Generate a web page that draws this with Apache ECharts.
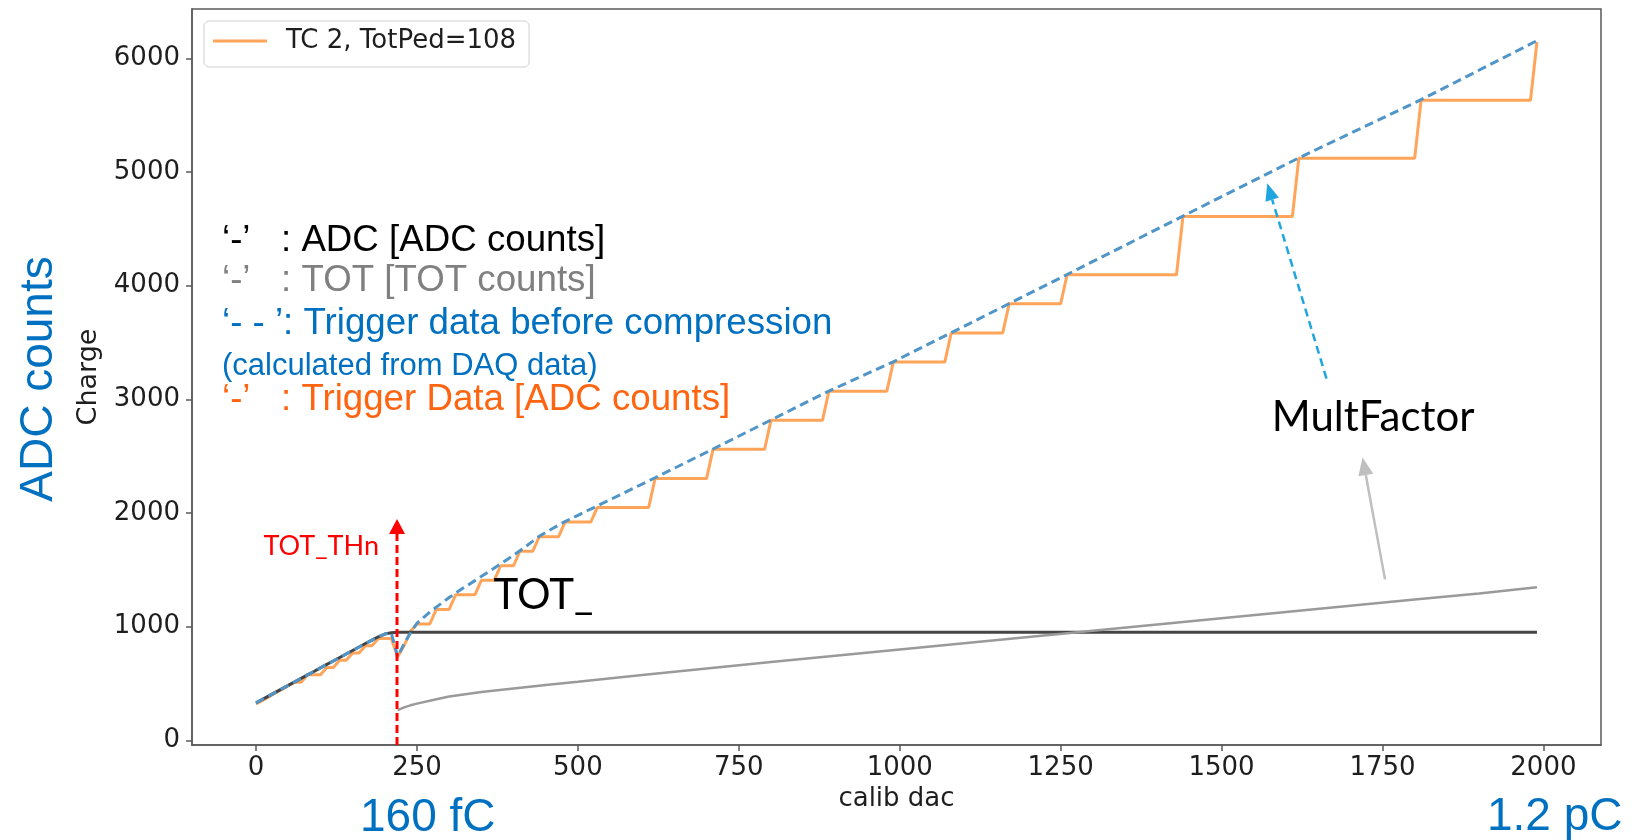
<!DOCTYPE html>
<html>
<head>
<meta charset="utf-8">
<title>TC 2 trigger data vs calib dac</title>
<script src="https://cdn.jsdelivr.net/npm/echarts@6/dist/echarts.min.js"></script>
<style>
  html, body { margin: 0; padding: 0; background: #ffffff; }
  #chart { width: 1636px; height: 840px; }
</style>
</head>
<body>
<div id="chart"></div>
<script>
// ---- data: calib dac sweep of trigger cell 2 ----
// ADC readout [ADC counts]
const adcDac = [0, 10, 20, 30, 40, 50, 60, 70, 80, 90, 100, 110, 120, 130, 140, 150, 160, 170, 180, 190, 200, 210, 220, 1990];
const adcVal = [330, 361, 391, 422, 453, 484, 514, 545, 576, 606, 637, 668, 698, 729, 760, 790, 821, 852, 882, 911, 935, 946, 950, 950];

// TOT readout [TOT counts]
const totDac = [220, 230, 240, 250, 275, 300, 350, 400, 450, 500, 600, 700, 800, 900, 1000, 1100, 1200, 1300, 1400, 1500, 1600, 1700, 1800, 1900, 1990];
const totVal = [265, 290, 308, 323, 355, 385, 425, 456, 487, 516, 575, 633, 690, 745, 800, 855, 910, 965, 1020, 1075, 1130, 1184, 1238, 1292, 1346];

// trigger data before compression (calculated from DAQ data)
const preDac = [0, 50, 100, 150, 190, 200, 210, 220, 230, 240, 250, 260, 270, 280, 290, 300, 320, 340, 360, 380, 400, 420, 440, 460, 480, 500, 520, 530, 620, 710, 800, 890, 990, 1080, 1170, 1260, 1440, 1620, 1810, 1990];
const preVal = [330, 484, 637, 790, 911, 935, 946, 736, 850, 945, 1030, 1080, 1128, 1172, 1214, 1256, 1333, 1405, 1478, 1552, 1627, 1710, 1795, 1862, 1925, 1980, 2035, 2062, 2310, 2563, 2818, 3073, 3330, 3586, 3842, 4098, 4612, 5124, 5636, 6155];

// trigger data after compression [ADC counts]
const trigDac = [0, 10, 20, 30, 40, 50, 60, 70, 80, 90, 100, 110, 120, 130, 140, 150, 160, 170, 180, 190, 200, 210, 220,
  230, 240, 250, 270, 280, 300, 310, 340, 350, 370, 380, 400, 410, 430, 440, 470, 480, 520, 530, 610, 620, 700, 710, 790,
  800, 880, 890, 980, 990, 1070, 1080, 1160, 1170, 1250, 1260, 1430, 1440, 1610, 1620, 1800, 1810, 1980, 1990];
const trigVal = [320, 352, 384, 416, 448, 480, 512, 512, 576, 576, 576, 640, 640, 704, 704, 768, 768, 832, 832, 896, 896, 896, 736,
  832, 960, 1024, 1024, 1152, 1152, 1280, 1280, 1408, 1408, 1536, 1536, 1664, 1664, 1792, 1792, 1920, 1920, 2048, 2048, 2304, 2304, 2560, 2560,
  2816, 2816, 3072, 3072, 3328, 3328, 3584, 3584, 3840, 3840, 4096, 4096, 4608, 4608, 5120, 5120, 5632, 5632, 6144];

const xTicks = [0, 250, 500, 750, 1000, 1250, 1500, 1750, 2000];
const yTicks = [0, 1000, 2000, 3000, 4000, 5000, 6000];
const legendLabel = 'TC 2, TotPed=108';

// ---- styles ----
const C_TRIG = '#ffa458';
const C_PRE = '#5095c8';
const C_ADC = '#454545';
const C_TOT = '#9a9a9a';
const C_AXIS = '#5a5a5a';
const C_TEXT = '#1e1e1e';
const C_SLIDE_BLUE = '#0070c0';
const MPL_FONT = 'DejaVu Sans';
const SLIDE_FONT = 'Liberation Sans, Arial, sans-serif';
const NOTE_FONT = 'Lato, sans-serif';

const zip = (xs, ys) => xs.map((x, i) => [x, ys[i]]);
const plain = v => String(v);

const chart = echarts.init(document.getElementById('chart'), null, { renderer: 'canvas' });

const axisCommon = {
  type: 'value',
  nameLocation: 'middle',
  nameTextStyle: { fontFamily: MPL_FONT, fontSize: 26, color: C_TEXT },
  axisLine: { show: true, onZero: false, lineStyle: { color: C_AXIS, width: 1.5 } },
  splitLine: { show: false }
};

chart.setOption({
  animation: false,
  backgroundColor: '#ffffff',
  grid: {
    left: 192, top: 9, right: 35, bottom: 95,
    show: true, borderColor: C_AXIS, borderWidth: 1.5, backgroundColor: 'transparent'
  },
  xAxis: Object.assign({}, axisCommon, {
    min: -99.5, max: 2089.5,
    name: 'calib dac', nameGap: 41,
    axisTick: { show: true, length: 6, customValues: xTicks, lineStyle: { color: C_AXIS, width: 1.5 } },
    axisLabel: { customValues: xTicks, formatter: plain, margin: 10, fontFamily: MPL_FONT, fontSize: 26, color: C_TEXT }
  }),
  yAxis: Object.assign({}, axisCommon, {
    min: -41, max: 6434,
    name: 'Charge', nameRotate: 90, nameGap: 88,
    nameTextStyle: { fontFamily: MPL_FONT, fontSize: 27, color: C_TEXT },
    axisTick: { show: true, length: 6, customValues: yTicks, lineStyle: { color: C_AXIS, width: 1.5 } },
    axisLabel: { customValues: yTicks, formatter: plain, margin: 12, fontFamily: MPL_FONT, fontSize: 26, color: C_TEXT }
  }),
  legend: {
    data: [legendLabel],
    left: 204, top: 21,
    orient: 'vertical',
    padding: [7, 13, 13, 9],
    backgroundColor: 'rgba(255,255,255,0.85)',
    borderColor: '#d0d0d0', borderWidth: 1, borderRadius: 5,
    icon: 'rect', itemWidth: 54, itemHeight: 3,
    selectedMode: false,
    textStyle: { fontFamily: MPL_FONT, fontSize: 26, color: C_TEXT, lineHeight: 26, padding: [0, 0, 0, 14] }
  },
  series: [
    {
      name: legendLabel, type: 'line', data: zip(trigDac, trigVal),
      symbol: 'none', silent: true, z: 2,
      color: C_TRIG, lineStyle: { color: C_TRIG, width: 3 }
    },
    {
      name: 'ADC', type: 'line', data: zip(adcDac, adcVal),
      symbol: 'none', silent: true, z: 3,
      color: C_ADC, lineStyle: { color: C_ADC, width: 3 }
    },
    {
      name: 'TOT', type: 'line', data: zip(totDac, totVal),
      symbol: 'none', silent: true, z: 3,
      color: C_TOT, lineStyle: { color: C_TOT, width: 2.5 }
    },
    {
      name: 'Trigger data before compression', type: 'line', data: zip(preDac, preVal),
      symbol: 'none', silent: true, z: 4,
      color: C_PRE, lineStyle: { color: C_PRE, width: 3, type: [9, 5] }
    }
  ]
});

// ---- annotations (anchored in data coordinates) ----
const toPx = p => chart.convertToPixel({ gridIndex: 0 }, p);

function arrow(from, to, color, width, dash, headLen, headW) {
  const a = toPx(from), b = toPx(to);
  const dx = b[0] - a[0], dy = b[1] - a[1];
  const len = Math.hypot(dx, dy);
  const ux = dx / len, uy = dy / len;
  const bx = b[0] - ux * headLen, by = b[1] - uy * headLen;
  const nx = -uy * headW / 2, ny = ux * headW / 2;
  return [
    { type: 'line', z: 100, silent: true,
      shape: { x1: a[0], y1: a[1], x2: bx, y2: by },
      style: { stroke: color, lineWidth: width, lineDash: dash || null } },
    { type: 'polygon', z: 100, silent: true,
      shape: { points: [[b[0], b[1]], [bx + nx, by + ny], [bx - nx, by - ny]] },
      style: { fill: color } }
  ];
}

// text placed by its baseline; middle offset per font
function noteText(text, p, font, size, color, align, midRatio) {
  return { type: 'text', z: 100, silent: true, x: p[0], y: p[1] - midRatio * size,
    style: { text: text, fontFamily: font, fontSize: size, fill: color, align: align, verticalAlign: 'middle' } };
}

const graphics = [];
// TOT threshold
graphics.push(...arrow([219, -41], [219, 1948], '#ff0000', 3, [8, 4], 15, 16));
graphics.push(noteText('TOT_THn', toPx([191, 1612]), NOTE_FONT, 27, '#ff0000', 'right', 0.387));
graphics.push(noteText('TOT_', toPx([369, 1131]), NOTE_FONT, 42, '#000000', 'left', 0.387));
// MultFactor pointers
graphics.push(...arrow([1663, 3183], [1571, 4900], '#1fa5e0', 2.5, [8, 5], 17, 14));
graphics.push(...arrow([1754, 1416], [1719, 2490], '#bfbfbf', 2.5, null, 18, 15));
graphics.push(noteText('MultFactor', toPx([1578, 2695]), NOTE_FONT, 42, '#000000', 'left', 0.387));

// line key block (pixel positions on the page)
const M = 0.3465;
function slideText(text, x, baseline, size, color) {
  return { type: 'text', z: 100, silent: true, x: x, y: baseline - M * size,
    style: { text: text, fontFamily: SLIDE_FONT, fontSize: size, fill: color, align: 'left', verticalAlign: 'middle' } };
}
const KEY = 36.7;
graphics.push(slideText('\u2018-\u2019', 222, 254, KEY, '#000000'));
graphics.push(slideText(': ADC [ADC counts]', 281, 254, KEY, '#000000'));
graphics.push(slideText('\u2018-\u2019', 222, 294, KEY, '#808080'));
graphics.push(slideText(': TOT [TOT counts]', 281, 294, KEY, '#808080'));
graphics.push(slideText('\u2018- - \u2019: Trigger data before compression', 222, 337, KEY, C_SLIDE_BLUE));
graphics.push(slideText('(calculated from DAQ data)', 222, 377, 31, C_SLIDE_BLUE));
graphics.push(slideText('\u2018-\u2019', 222, 413, KEY, '#ff6410'));
graphics.push(slideText(': Trigger Data [ADC counts]', 281, 413, KEY, '#ff6410'));

// charge scale labels
graphics.push(slideText('160 fC', 360, 834, 46, C_SLIDE_BLUE));
graphics.push(slideText('1.2 pC', 1487, 833, 46, C_SLIDE_BLUE));
graphics.push({ type: 'text', z: 100, silent: true, x: 39, y: 379, rotation: Math.PI / 2,
  style: { text: 'ADC counts', fontFamily: SLIDE_FONT, fontSize: 46, fill: C_SLIDE_BLUE, align: 'center', verticalAlign: 'middle' } });

chart.setOption({ graphic: graphics });
</script>
</body>
</html>
